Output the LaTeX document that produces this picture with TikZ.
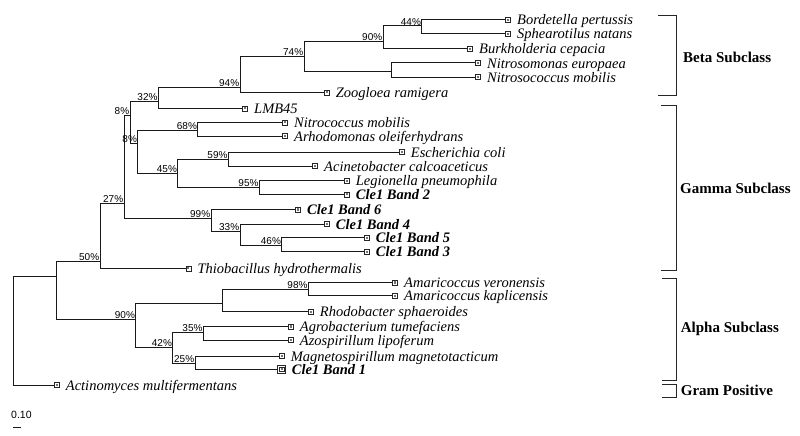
\documentclass[tikz,border=0pt]{standalone}
\usepackage{fontspec}
\setmainfont{Liberation Serif}
\newfontfamily\bootfont{Liberation Sans}
\begin{document}
\begin{tikzpicture}[x=1pt,y=-1pt,
  branch/.style={draw=black!90,line width=1pt},
  leafbox/.style={draw=black!85,fill=white,line width=0.6pt,minimum size=5pt,inner sep=0pt,
    path picture={\fill[black!55] ([xshift=-1.1pt,yshift=-1.1pt]path picture bounding box.center) rectangle ([xshift=1.1pt,yshift=1.1pt]path picture bounding box.center);}},
  bigbox/.style={draw=black!85,fill=white,line width=0.7pt,minimum size=8pt,inner sep=0pt,
    path picture={\draw[black!85,line width=0.5pt] ([xshift=-2.2pt,yshift=-2.2pt]path picture bounding box.center) rectangle ([xshift=2.2pt,yshift=2.2pt]path picture bounding box.center);
      \fill[black!55] ([xshift=-1.1pt,yshift=-1.1pt]path picture bounding box.center) rectangle ([xshift=1.1pt,yshift=1.1pt]path picture bounding box.center);}},
  taxon/.style={font=\fontsize{14.5}{16}\selectfont\itshape,inner sep=0pt,anchor=base west},
  cletaxon/.style={taxon,font=\fontsize{14.5}{16}\selectfont\bfseries\itshape},
  boot/.style={font=\bootfont\fontsize{10}{11}\selectfont,inner sep=0.6pt,anchor=south east},
  group/.style={font=\fontsize{15}{17}\selectfont\bfseries,inner sep=0pt,anchor=west},
  bracket/.style={draw=black!85,line width=0.9pt}]
\useasboundingbox (0,0) rectangle (800,436);
% internal nodes
\coordinate (root) at (13.3,276);
\coordinate (nB) at (56.7,276);
\coordinate (n50) at (100,261.7);
\coordinate (n27) at (124,203.3);
\coordinate (n8a) at (130,115);
\coordinate (n32) at (158.3,101.7);
\coordinate (n94) at (240,87.3);
\coordinate (n74) at (304,56.7);
\coordinate (n90) at (383,41.7);
\coordinate (n44) at (421.7,26);
\coordinate (nNit) at (391.7,71.7);
\coordinate (n8b) at (137.7,143.3);
\coordinate (n68) at (197.7,130.7);
\coordinate (n45) at (177.7,173.3);
\coordinate (n59) at (228.3,159);
\coordinate (n95) at (259.3,187.7);
\coordinate (n99) at (211,218.3);
\coordinate (n33) at (240,231.7);
\coordinate (n46) at (281.7,245);
\coordinate (nA90) at (135.7,319.3);
\coordinate (nAR) at (222.7,303.3);
\coordinate (n98) at (308.3,289.3);
\coordinate (n42) at (172.7,347.7);
\coordinate (n35) at (203.3,332.3);
\coordinate (n25) at (195,363.3);
% leaves
\node[leafbox] (bord) at (508,20) {};
\node[leafbox] (spha) at (508,34) {};
\node[leafbox] (burk) at (470,49) {};
\node[leafbox] (nsom) at (478,63) {};
\node[leafbox] (nsoc) at (478,77) {};
\node[leafbox] (zoog) at (326.7,92.3) {};
\node[leafbox] (lmb) at (245,108.3) {};
\node[leafbox] (nmob) at (285,122.3) {};
\node[leafbox] (arho) at (285,136) {};
\node[leafbox] (ecol) at (401.7,152) {};
\node[leafbox] (acin) at (315,166) {};
\node[leafbox] (legi) at (346.7,180.7) {};
\node[leafbox] (band2) at (346.7,194.3) {};
\node[leafbox] (band6) at (298,209.5) {};
\node[leafbox] (band4) at (326.7,224) {};
\node[leafbox] (band5) at (366.7,237.7) {};
\node[leafbox] (band3) at (366.7,251.7) {};
\node[leafbox] (thio) at (188.3,268.3) {};
\node[leafbox] (amve) at (395,282.5) {};
\node[leafbox] (amka) at (395,295.7) {};
\node[leafbox] (rhod) at (310.7,311.7) {};
\node[leafbox] (agro) at (290.7,326.5) {};
\node[leafbox] (azos) at (290.7,340) {};
\node[leafbox] (magn) at (281.7,356) {};
\node[bigbox] (band1) at (281.7,369.3) {};
\node[leafbox] (acti) at (56.7,385) {};
% branches
\draw[branch] (root) |- (nB);
\draw[branch] (root) |- (acti);
\draw[branch] (nB) |- (n50);
\draw[branch] (nB) |- (nA90);
\draw[branch] (n50) |- (n27);
\draw[branch] (n50) |- (thio);
\draw[branch] (n27) |- (n8a);
\draw[branch] (n27) |- (n99);
\draw[branch] (n8a) |- (n32);
\draw[branch] (n8a) |- (n8b);
\draw[branch] (n32) |- (n94);
\draw[branch] (n32) |- (lmb);
\draw[branch] (n94) |- (n74);
\draw[branch] (n94) |- (zoog);
\draw[branch] (n74) |- (n90);
\draw[branch] (n74) |- (nNit);
\draw[branch] (n90) |- (n44);
\draw[branch] (n90) |- (burk);
\draw[branch] (n44) |- (bord);
\draw[branch] (n44) |- (spha);
\draw[branch] (nNit) |- (nsom);
\draw[branch] (nNit) |- (nsoc);
\draw[branch] (n8b) |- (n68);
\draw[branch] (n8b) |- (n45);
\draw[branch] (n68) |- (nmob);
\draw[branch] (n68) |- (arho);
\draw[branch] (n45) |- (n59);
\draw[branch] (n45) |- (n95);
\draw[branch] (n59) |- (ecol);
\draw[branch] (n59) |- (acin);
\draw[branch] (n95) |- (legi);
\draw[branch] (n95) |- (band2);
\draw[branch] (n99) |- (band6);
\draw[branch] (n99) |- (n33);
\draw[branch] (n33) |- (band4);
\draw[branch] (n33) |- (n46);
\draw[branch] (n46) |- (band5);
\draw[branch] (n46) |- (band3);
\draw[branch] (nA90) |- (nAR);
\draw[branch] (nA90) |- (n42);
\draw[branch] (nAR) |- (n98);
\draw[branch] (nAR) |- (rhod);
\draw[branch] (n98) |- (amve);
\draw[branch] (n98) |- (amka);
\draw[branch] (n42) |- (n35);
\draw[branch] (n42) |- (n25);
\draw[branch] (n35) |- (agro);
\draw[branch] (n35) |- (azos);
\draw[branch] (n25) |- (magn);
\draw[branch] (n25) |- (band1);
% bootstrap values
\node[boot] at (n44) {44\%};
\node[boot] at (n90) {90\%};
\node[boot] at (n74) {74\%};
\node[boot] at (n94) {94\%};
\node[boot] at (n32) {32\%};
\node[boot] at (n8a) {8\%};
\node[boot] at (n8b) {8\%};
\node[boot] at (n68) {68\%};
\node[boot] at (n59) {59\%};
\node[boot] at (n45) {45\%};
\node[boot] at (n95) {95\%};
\node[boot] at (n27) {27\%};
\node[boot] at (n99) {99\%};
\node[boot] at (n33) {33\%};
\node[boot] at (n46) {46\%};
\node[boot] at (n50) {50\%};
\node[boot] at (n98) {98\%};
\node[boot] at (nA90) {90\%};
\node[boot] at (n35) {35\%};
\node[boot] at (n42) {42\%};
\node[boot] at (n25) {25\%};
% taxon labels
\node[taxon] (lbord) at ([xshift=9pt,yshift=-5pt]bord.center) {Bordetella pertussis};
\node[taxon] (lspha) at ([xshift=9pt,yshift=-5pt]spha.center) {Sphearotilus natans};
\node[taxon] (lburk) at ([xshift=9pt,yshift=-5pt]burk.center) {Burkholderia cepacia};
\node[taxon] (lnsom) at ([xshift=9pt,yshift=-5pt]nsom.center) {Nitrosomonas europaea};
\node[taxon] (lnsoc) at ([xshift=9pt,yshift=-5pt]nsoc.center) {Nitrosococcus mobilis};
\node[taxon] (lzoog) at ([xshift=9pt,yshift=-5pt]zoog.center) {Zoogloea ramigera};
\node[taxon] (llmb) at ([xshift=9pt,yshift=-5pt]lmb.center) {LMB45};
\node[taxon] (lnmob) at ([xshift=9pt,yshift=-5pt]nmob.center) {Nitrococcus mobilis};
\node[taxon] (larho) at ([xshift=9pt,yshift=-5pt]arho.center) {Arhodomonas oleiferhydrans};
\node[taxon] (lecol) at ([xshift=9pt,yshift=-5pt]ecol.center) {Escherichia coli};
\node[taxon] (lacin) at ([xshift=9pt,yshift=-5pt]acin.center) {Acinetobacter calcoaceticus};
\node[taxon] (llegi) at ([xshift=9pt,yshift=-5pt]legi.center) {Legionella pneumophila};
\node[cletaxon] (lband2) at ([xshift=9pt,yshift=-5pt]band2.center) {Cle1 Band 2};
\node[cletaxon] (lband6) at ([xshift=9pt,yshift=-5pt]band6.center) {Cle1 Band 6};
\node[cletaxon] (lband4) at ([xshift=9pt,yshift=-5pt]band4.center) {Cle1 Band 4};
\node[cletaxon] (lband5) at ([xshift=9pt,yshift=-5pt]band5.center) {Cle1 Band 5};
\node[cletaxon] (lband3) at ([xshift=9pt,yshift=-5pt]band3.center) {Cle1 Band 3};
\node[taxon] (lthio) at ([xshift=9pt,yshift=-5pt]thio.center) {Thiobacillus hydrothermalis};
\node[taxon] (lamve) at ([xshift=9pt,yshift=-5pt]amve.center) {Amaricoccus veronensis};
\node[taxon] (lamka) at ([xshift=9pt,yshift=-5pt]amka.center) {Amaricoccus kaplicensis};
\node[taxon] (lrhod) at ([xshift=9pt,yshift=-5pt]rhod.center) {Rhodobacter sphaeroides};
\node[taxon] (lagro) at ([xshift=9pt,yshift=-5pt]agro.center) {Agrobacterium tumefaciens};
\node[taxon] (lazos) at ([xshift=9pt,yshift=-5pt]azos.center) {Azospirillum lipoferum};
\node[taxon] (lmagn) at ([xshift=9pt,yshift=-5pt]magn.center) {Magnetospirillum magnetotacticum};
\node[cletaxon] (lband1) at ([xshift=10pt,yshift=-5pt]band1.center) {Cle1 Band 1};
\node[taxon] (lacti) at ([xshift=9pt,yshift=-5pt]acti.center) {Actinomyces multifermentans};
% group brackets
\draw[bracket] (658,15) -- (676,15) -- (676,95.7) -- (658,95.7);
\draw[bracket] (661,105) -- (676,105) -- (676,270) -- (661,270);
\draw[bracket] (662,278.3) -- (676.5,278.3) -- (676.5,380) -- (662,380);
\draw[bracket] (662,384) -- (676.5,384) -- (676.5,397.7) -- (662,397.7);
\node[group] (gbeta) at (683,57.3) {Beta Subclass};
\node[group] (ggamma) at (680,188.3) {Gamma Subclass};
\node[group] (galpha) at (680.7,329) {Alpha Subclass};
\node[group] (ggram) at (680.7,390) {Gram Positive};
% scale bar
\node[font=\bootfont\fontsize{10.5}{11}\selectfont,inner sep=0pt,anchor=west] (scl) at (11,415) {0.10};
\coordinate (sb1) at (13.3,427);
\coordinate (sb2) at (21.3,427);
\draw[branch] (sb1) -- (sb2);
\end{tikzpicture}
\end{document}
